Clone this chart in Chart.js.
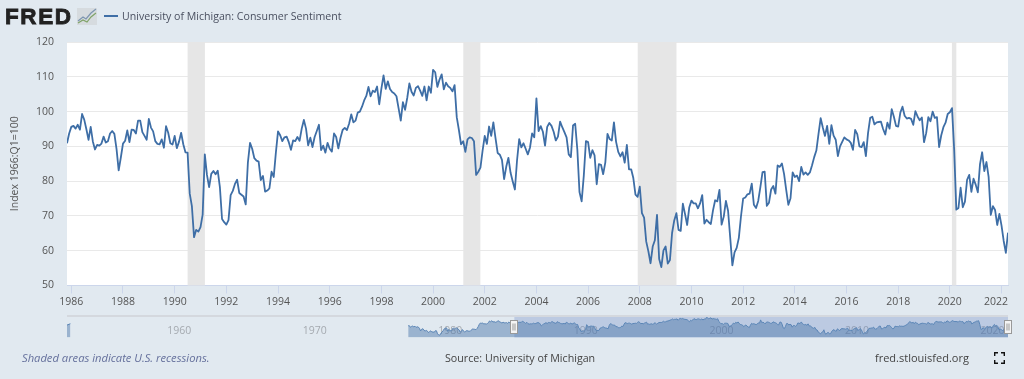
<!DOCTYPE html>
<html>
<head>
<meta charset="utf-8">
<title>University of Michigan: Consumer Sentiment</title>
<script src="https://cdn.jsdelivr.net/npm/chart.js@4/dist/chart.umd.min.js"></script>
<style>
    html, body { margin: 0; padding: 0; background: #e1e9f0; overflow: hidden; }
    body { width: 1024px; height: 379px; position: relative; font-family: "Open Sans", sans-serif; }
    canvas { position: absolute; left: 0; }
    #mainChart { top: 0; }
    #navChart { top: 315px; }
    .label { position: absolute; white-space: nowrap; font-size: 11px; color: #444; line-height: 14px; }
    #logo { left: 5px; top: 3px; font: bold 22.5px/28px "Liberation Sans", sans-serif; color: #222; -webkit-text-stroke: 0.8px #222; letter-spacing: 1.6px; }
    #icon { position: absolute; left: 77px; top: 8px; }
    #legendLine { position: absolute; left: 104px; top: 15px; width: 14px; height: 2px; background: #3e6ea6; }
    #legendText { left: 122px; top: 9px; font-size: 10.6px; color: #4a5060; }
    #note { left: 22px; top: 351px; font-size: 11.2px; font-style: italic; color: #65709c; }
    #source { left: 445px; top: 351px; font-size: 10.7px; }
    #site { left: 875px; top: 351px; }
    #fullscreen { position: absolute; left: 994px; top: 352px; }
</style>
</head>
<body>
<canvas id="mainChart" width="1024" height="379"></canvas>
<canvas id="navChart" width="1024" height="30"></canvas>

<div class="label" id="logo">FRED</div>
<svg id="icon" width="20" height="17">
    <rect width="20" height="17" fill="#d6dbdf"/>
    <polyline points="1,13 6,9 9,11 14,5 19,1" fill="none" stroke="#7d95b0" stroke-width="1.2"/>
    <polyline points="1,15 6,12 10,14 14,9 19,5" fill="none" stroke="#7fa368" stroke-width="1.2"/>
</svg>
<div id="legendLine"></div>
<div class="label" id="legendText">University of Michigan: Consumer Sentiment</div>
<div class="label" id="note">Shaded areas indicate U.S. recessions.</div>
<div class="label" id="source">Source: University of Michigan</div>
<div class="label" id="site">fred.stlouisfed.org</div>
<svg id="fullscreen" width="11" height="12">
    <path d="M0.7 4V0.7H4 M7 0.7H10.3V4 M0.7 8V11.3H4 M7 11.3H10.3V8" fill="none" stroke="#111" stroke-width="1.4"/>
</svg>

<script>
// monthly values, Nov 1985 to Apr 2022
const startYear = 1985 + 10 / 12;
const sentiment = [
    90.9, 93.7,
    95.6, 95.9, 95.1, 96.2, 94.8, 99.3, 97.7, 94.9, 91.9, 95.6, 91.4, 89.1,
    90.4, 90.2, 90.8, 92.8, 91.1, 91.5, 93.7, 94.4, 93.6, 89.3, 83.1, 86.8,
    90.8, 91.6, 94.6, 91.2, 94.8, 94.7, 93.7, 97.4, 97.4, 94.1, 93.0, 91.9,
    97.9, 95.4, 94.3, 91.5, 90.7, 90.6, 92.0, 89.6, 95.8, 93.9, 90.9, 90.5,
    93.0, 89.5, 91.3, 93.9, 90.6, 88.3, 88.2, 76.4, 72.8, 63.9, 66.0, 65.5,
    66.8, 70.4, 87.7, 81.8, 78.3, 82.1, 82.9, 82.0, 83.0, 78.3, 69.1, 68.2,
    67.5, 68.8, 76.0, 77.2, 79.2, 80.4, 76.6, 76.1, 75.6, 73.3, 85.3, 91.0,
    89.3, 86.6, 85.9, 85.6, 80.3, 81.5, 77.0, 77.3, 77.9, 82.7, 81.2, 88.2,
    94.3, 93.2, 91.5, 92.6, 92.8, 91.2, 89.0, 91.7, 91.5, 92.7, 91.6, 95.1,
    97.6, 95.1, 90.3, 92.5, 89.8, 92.7, 94.4, 96.2, 88.9, 90.2, 88.2, 91.0,
    89.3, 88.5, 93.7, 92.7, 89.4, 92.4, 94.7, 95.3, 94.7, 96.5, 99.2, 96.9,
    97.4, 99.7, 100.0, 101.4, 103.2, 104.5, 107.1, 104.4, 106.0, 105.6, 107.2, 102.1,
    106.6, 110.4, 106.5, 108.7, 106.5, 105.6, 105.2, 104.4, 100.9, 97.4, 102.7, 100.5,
    103.9, 108.1, 105.7, 104.6, 106.8, 107.3, 106.0, 104.5, 107.2, 103.2, 107.2, 105.4,
    112.0, 111.3, 107.1, 109.2, 110.7, 106.4, 108.3, 107.3, 106.8, 105.8, 107.6, 98.4,
    94.7, 90.6, 91.5, 88.4, 92.0, 92.6, 92.4, 91.5, 81.8, 82.7, 83.9, 88.8,
    93.0, 90.7, 95.7, 93.0, 96.9, 92.4, 88.1, 87.6, 86.1, 80.6, 84.2, 86.7,
    82.4, 79.9, 77.6, 86.0, 92.1, 89.7, 90.9, 89.3, 87.7, 89.6, 93.7, 92.6,
    103.8, 94.4, 95.8, 94.2, 90.2, 95.6, 96.7, 95.9, 94.2, 91.7, 92.8, 97.1,
    95.5, 94.1, 92.6, 87.7, 86.9, 96.0, 96.5, 89.1, 76.9, 74.2, 81.6, 91.5,
    91.2, 86.7, 88.9, 87.4, 79.1, 84.9, 84.7, 82.0, 85.4, 93.6, 92.1, 91.7,
    96.9, 91.3, 88.4, 87.1, 88.3, 85.3, 90.4, 83.4, 83.4, 80.9, 76.1, 75.5,
    78.4, 70.8, 69.5, 62.6, 59.8, 56.4, 61.2, 63.0, 70.3, 57.6, 55.3, 60.1,
    61.2, 56.3, 57.3, 65.1, 68.7, 70.8, 66.0, 65.7, 73.5, 70.6, 67.4, 72.5,
    74.4, 73.6, 73.6, 72.2, 73.6, 76.0, 67.8, 68.9, 68.2, 67.7, 71.6, 74.5,
    74.2, 77.5, 67.5, 69.8, 74.3, 71.5, 63.7, 55.8, 59.5, 60.8, 63.7, 69.9,
    75.0, 75.3, 76.2, 76.4, 79.3, 73.2, 72.3, 74.3, 78.3, 82.6, 82.7, 72.9,
    73.8, 77.6, 78.6, 76.4, 84.5, 84.1, 85.1, 82.1, 77.5, 73.2, 75.1, 82.5,
    81.2, 81.6, 80.0, 84.1, 81.9, 82.5, 81.8, 82.5, 84.6, 86.9, 88.8, 93.6,
    98.1, 95.4, 93.0, 95.9, 90.7, 96.1, 93.1, 91.9, 87.2, 90.0, 91.3, 92.6,
    92.0, 91.7, 91.0, 89.0, 94.7, 93.5, 90.0, 89.8, 91.2, 87.2, 93.8, 98.2,
    98.5, 96.3, 96.9, 97.0, 97.1, 95.0, 93.4, 96.8, 95.1, 100.7, 98.5, 95.9,
    95.7, 99.7, 101.4, 98.8, 98.0, 98.2, 97.9, 96.2, 100.1, 98.6, 97.5, 98.3,
    91.2, 93.8, 98.4, 97.2, 100.0, 98.2, 98.4, 89.8, 93.2, 95.5, 96.8, 99.3,
    99.8, 101.0, 89.1, 71.8, 72.3, 78.1, 72.5, 74.1, 80.4, 81.8, 76.9, 80.7,
    79.0, 76.8, 84.9, 88.3, 82.9, 85.5, 81.2, 70.3, 72.8, 71.7, 67.4, 70.6,
    67.2, 62.8, 59.4, 65.2
];

// older history, only shown in the navigator strip (Jan 1978 to Oct 1985)
const olderSentiment = [
    83.7, 84.3, 78.8, 81.6, 82.9, 80.0, 82.4, 78.4, 80.4, 79.3, 75.0, 66.1,
    72.1, 73.9, 68.4, 66.0, 68.1, 65.8, 60.4, 64.5, 66.7, 62.1, 63.3, 61.0,
    67.0, 66.9, 56.5, 52.7, 51.7, 58.7, 62.3, 67.3, 73.7, 75.0, 76.7, 64.5,
    71.5, 66.9, 66.5, 72.4, 76.3, 73.1, 74.1, 77.2, 73.1, 70.3, 62.5, 64.3,
    71.0, 66.5, 62.0, 65.5, 67.5, 65.7, 65.4, 65.4, 69.3, 73.4, 72.1, 71.9,
    70.4, 74.6, 80.8, 89.1, 93.3, 92.2, 93.0, 89.8, 90.9, 89.3, 91.1, 94.2,
    100.1, 97.4, 101.0, 96.1, 98.1, 95.5, 96.6, 99.1, 100.9, 96.3, 95.7, 92.9,
    96.0, 93.7, 93.7, 94.6, 91.8, 96.5, 94.0, 92.4, 92.1, 88.4
];
const earliestPoints = [[1952.83, 86.2], [1953.08, 90.7]];

// recession start / end as decimal years
const recessions = [[1990.5, 1991.17], [2001.17, 2001.83], [2007.92, 2009.42], [2020.08, 2020.25]];

const yearTicks = [1986, 1988, 1990, 1992, 1994, 1996, 1998, 2000, 2002, 2004, 2006, 2008, 2010, 2012, 2014, 2016, 2018, 2020, 2022];
const navYearTicks = [1960, 1970, 1980, 1990, 2000, 2010, 2020];
const yTitle = 'Index 1966:Q1=100';

const lineColor = '#3e6ea6';
const fontFamily = '"Open Sans", sans-serif';

const mainPoints = sentiment.map((v, i) => ({ x: startYear + i / 12, y: v }));
const endYear = mainPoints[mainPoints.length - 1].x;

const plotBackground = {
    id: 'plotBackground',
    beforeDraw(chart) {
        const a = chart.chartArea;
        chart.ctx.fillStyle = '#ffffff';
        chart.ctx.fillRect(a.left, a.top, a.width, a.height);
    },
    beforeDatasetsDraw(chart) {
        const a = chart.chartArea;
        const x = chart.scales.x;
        chart.ctx.fillStyle = '#e6e6e6';
        recessions.forEach(r => {
            const x0 = x.getPixelForValue(r[0]);
            chart.ctx.fillRect(x0, a.top, x.getPixelForValue(r[1]) - x0, a.height);
        });
    }
};

new Chart(document.getElementById('mainChart'), {
    type: 'line',
    data: {
        datasets: [{
            data: mainPoints,
            borderColor: lineColor,
            borderWidth: 1.8,
            borderJoinStyle: 'round',
            pointRadius: 0,
            tension: 0,
            fill: false
        }]
    },
    options: {
        responsive: false,
        animation: false,
        parsing: false,
        normalized: true,
        layout: { padding: { top: 42, right: 16, left: 0, bottom: 0 } },
        plugins: { legend: { display: false }, tooltip: { enabled: false } },
        scales: {
            x: {
                type: 'linear',
                min: startYear,
                max: endYear,
                afterBuildTicks: scale => { scale.ticks = yearTicks.map(v => ({ value: v })); },
                afterFit: scale => { scale.height = 93.5; },
                border: { color: '#ccd6eb', width: 1 },
                grid: { drawOnChartArea: false, drawTicks: true, tickLength: 8, tickColor: '#ccd6eb' },
                ticks: {
                    autoSkip: false,
                    maxRotation: 0,
                    padding: 2,
                    color: '#555',
                    font: { family: fontFamily, size: 10.5 },
                    // last label gets pushed left so it stays inside the plot
                    callback: v => (v === 2022 ? '2022    ' : String(v))
                }
            },
            y: {
                min: 50,
                max: 120,
                afterFit: scale => { scale.width = 67; },
                border: { display: false },
                grid: { color: '#e9e9e9', lineWidth: 1, drawTicks: false },
                ticks: {
                    stepSize: 10,
                    padding: 13,
                    color: '#555',
                    font: { family: fontFamily, size: 10.5 }
                },
                title: {
                    display: true,
                    text: yTitle,
                    color: '#555',
                    padding: { top: 9, bottom: 0 },
                    font: { family: fontFamily, size: 10.5 }
                }
            }
        }
    },
    plugins: [plotBackground]
});

// navigator strip under the main plot
const navPoints = olderSentiment.concat(sentiment).map((v, i) => ({ x: 1978 + i / 12, y: v }));

const navExtras = {
    id: 'navExtras',
    beforeDatasetsDraw(chart) {
        const ctx = chart.ctx;
        const a = chart.chartArea;
        const x = chart.scales.x;
        ctx.fillStyle = 'rgba(102,133,194,0.3)';
        const x0 = x.getPixelForValue(startYear);
        ctx.fillRect(x0, a.top, x.getPixelForValue(endYear) - x0, a.height);
        ctx.fillStyle = '#d4d8de';
        ctx.fillRect(a.left, a.top - 1, a.width, 2);
    },
    afterDraw(chart) {
        const ctx = chart.ctx;
        const x = chart.scales.x;
        [startYear, endYear].forEach(year => {
            const px = Math.round(x.getPixelForValue(year)) - 0.5;
            ctx.fillStyle = '#f4f4f4';
            ctx.strokeStyle = '#999';
            ctx.lineWidth = 1;
            ctx.fillRect(px - 3, 5.5, 7, 13);
            ctx.strokeRect(px - 3, 5.5, 7, 13);
            ctx.beginPath();
            ctx.moveTo(px - 0.5, 8.5); ctx.lineTo(px - 0.5, 15.5);
            ctx.moveTo(px + 1.5, 8.5); ctx.lineTo(px + 1.5, 15.5);
            ctx.stroke();
        });
    }
};

new Chart(document.getElementById('navChart'), {
    type: 'line',
    data: {
        datasets: [
            {
                data: navPoints,
                borderColor: '#5c86b6',
                borderWidth: 1,
                pointRadius: 0,
                backgroundColor: 'rgba(69,114,167,0.45)',
                fill: 'start'
            },
            {
                data: earliestPoints.map(p => ({ x: p[0], y: p[1] })),
                borderColor: '#5c86b6',
                borderWidth: 1,
                pointRadius: 0,
                backgroundColor: 'rgba(69,114,167,0.45)',
                fill: 'start'
            }
        ]
    },
    options: {
        responsive: false,
        animation: false,
        parsing: false,
        layout: { padding: { top: 1, right: 16, left: 67, bottom: 7.5 } },
        plugins: { legend: { display: false }, tooltip: { enabled: false } },
        scales: {
            x: {
                type: 'linear',
                min: earliestPoints[0][0],
                max: endYear,
                afterBuildTicks: scale => { scale.ticks = navYearTicks.map(v => ({ value: v })); },
                afterFit: scale => { scale.height = 0; },
                border: { display: false },
                grid: { display: false, drawTicks: false },
                ticks: {
                    autoSkip: false,
                    maxRotation: 0,
                    // mirror keeps the labels from being clipped to the zero height axis
                    mirror: true,
                    padding: 0,
                    labelOffset: 15,
                    color: '#a5aab0',
                    font: { family: fontFamily, size: 10.5 },
                    callback: v => String(v)
                }
            },
            y: { display: false, min: 44, max: 117 }
        }
    },
    plugins: [navExtras]
});
</script>
</body>
</html>
